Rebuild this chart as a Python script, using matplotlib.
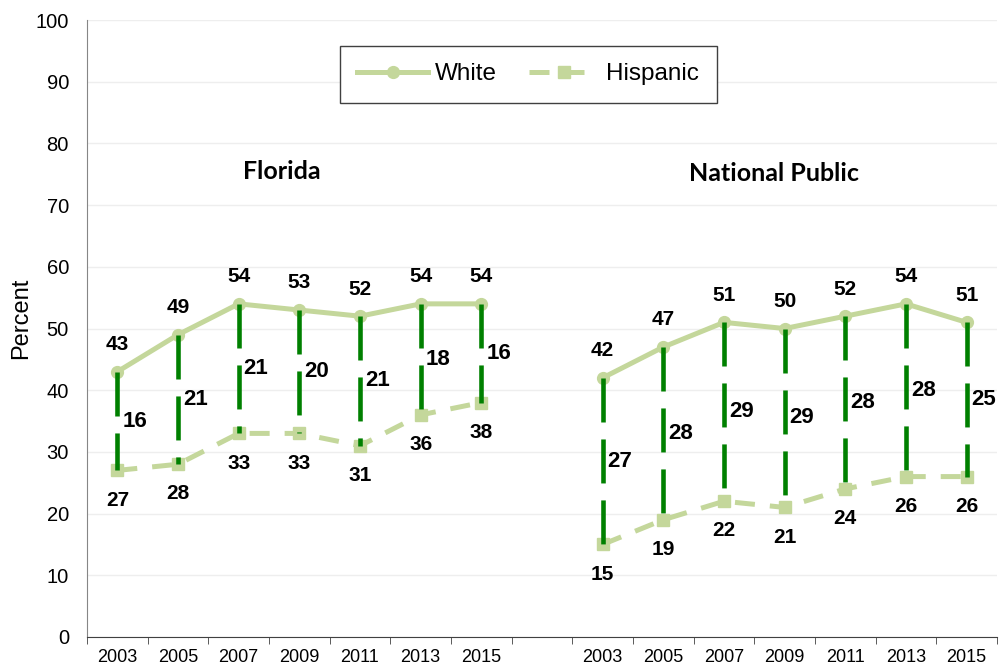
import matplotlib.pyplot as plt

plt.rcParams['font.family'] = ['Liberation Sans', 'DejaVu Sans']

years = ['2003', '2005', '2007', '2009', '2011', '2013', '2015']

fl_white = [43, 49, 54, 53, 52, 54, 54]
fl_hispanic = [27, 28, 33, 33, 31, 36, 38]
fl_gap = [16, 21, 21, 20, 21, 18, 16]

nat_white = [42, 47, 51, 50, 52, 54, 51]
nat_hispanic = [15, 19, 22, 21, 24, 26, 26]
nat_gap = [27, 28, 29, 29, 28, 28, 25]

light_green = '#C4D79B'
dark_green = '#008000'

fig = plt.figure(figsize=(10.07, 6.70), dpi=100)
ax = fig.add_axes([0.0864, 0.0493, 0.9036, 0.9207])

# Florida occupies slots 0-6, slot 7 stays empty, national slots 8-14
groups = [
    (list(range(0, 7)), fl_white, fl_hispanic, fl_gap),
    (list(range(8, 15)), nat_white, nat_hispanic, nat_gap),
]

for i, (xs, white, hisp, gap) in enumerate(groups):
    ax.plot(xs, white, color=light_green, lw=3.6, marker='o', markersize=8.5,
            zorder=3, label='White' if i == 0 else None)
    ax.plot(xs, hisp, color=light_green, lw=3.6, marker='s', markersize=8.5,
            dashes=(4, 3), zorder=3, label='Hispanic' if i == 0 else None)
    for x, w, h, g in zip(xs, white, hisp, gap):
        ax.plot([x, x], [w, w - g], color=dark_green, lw=3.3,
                dashes=(9.6, 3.7), zorder=4)
        ax.text(x, w + 4.4, str(w), ha='center', va='center',
                fontsize=15, fontweight='bold')
        ax.text(x, h - 4.8, str(h), ha='center', va='center',
                fontsize=15, fontweight='bold')
        ax.text(x + 0.08, w - g / 2, str(g), ha='left', va='center',
                fontsize=16, fontweight='bold')

ax.text(2.71, 75.4, 'Florida', ha='center', va='center',
        fontsize=18, fontweight='bold', family=['Lato', 'DejaVu Sans'])
ax.text(10.83, 75.2, 'National Public', ha='center', va='center',
        fontsize=18, fontweight='bold', family=['Lato', 'DejaVu Sans'])

ax.set_xlim(-0.5, 14.5)
ax.set_ylim(0, 100)
ax.set_yticks(range(0, 101, 10))
ax.set_ylabel('Percent', fontsize=17)
ax.yaxis.set_label_coords(-0.060, 0.517)

centers = list(range(0, 7)) + list(range(8, 15))
ax.set_xticks(centers)
ax.set_xticklabels(years + years, fontsize=13)
ax.set_xticks([x - 0.5 for x in range(0, 16)], minor=True)
ax.tick_params(axis='x', which='major', length=0, pad=9)
ax.tick_params(axis='x', which='minor', length=5, color='#404040')
ax.tick_params(axis='y', labelsize=14.5, length=0, pad=13)

ax.grid(axis='y', color='#EEEEEE', lw=1)
ax.set_axisbelow(True)
for side in ['top', 'right']:
    ax.spines[side].set_visible(False)
ax.spines['left'].set_color('#868686')
ax.spines['bottom'].set_color('#404040')

leg = ax.legend(loc='center', bbox_to_anchor=(0.485, 0.912), ncol=2,
                fontsize=17.5, handlelength=2.9, handletextpad=0.3,
                columnspacing=1.3, fancybox=False, framealpha=1,
                borderpad=0.72)
leg.get_frame().set_edgecolor('#404040')
leg.get_frame().set_linewidth(1)

fig.savefig('out.png', dpi=100)
